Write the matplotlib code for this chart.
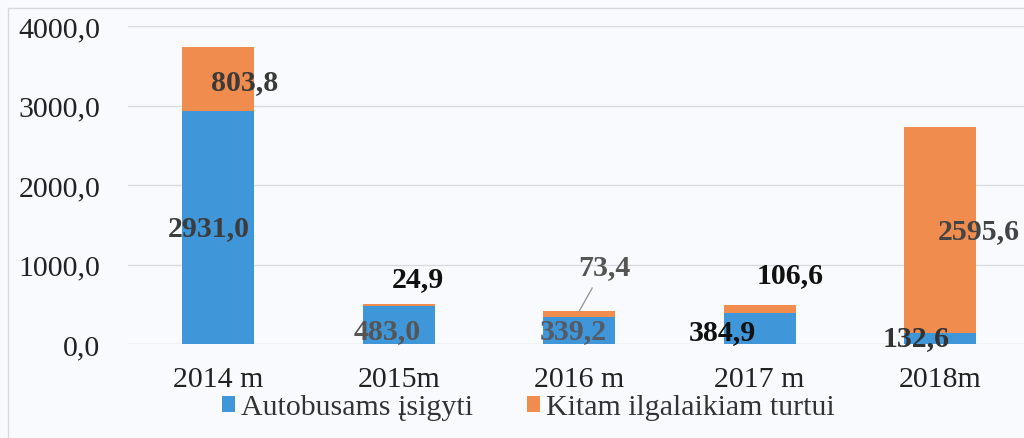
import matplotlib
matplotlib.use("Agg")
import matplotlib.pyplot as plt
from matplotlib.patches import Rectangle

# data
years = ["2014 m", "2015m", "2016 m", "2017 m", "2018m"]
autobusams = [2931.0, 483.0, 339.2, 384.9, 132.6]
kitam = [803.8, 24.9, 73.4, 106.6, 2595.6]
y_ticks = [0, 1000, 2000, 3000, 4000]

blue = "#3f96d9"
orange = "#f08c4e"
bg = "#f8fafd"
fs = 21.5

plt.rcParams["font.family"] = ["Liberation Serif", "DejaVu Serif"]

fig = plt.figure(figsize=(10.24, 4.39), dpi=100, facecolor=bg)
ax = fig.add_axes([0.125, 0.2141, 0.875, 0.7244])
ax.set_facecolor(bg)

x = list(range(len(years)))
ax.bar(x, autobusams, width=0.4, color=blue, label="Autobusams įsigyti", zorder=2)
ax.bar(x, kitam, width=0.4, bottom=autobusams, color=orange,
       label="Kitam ilgalaikiam turtui", zorder=2)

ax.set_xlim(-0.5, 4.465)
ax.set_ylim(0, 4000)
ax.set_yticks(y_ticks)
ax.set_yticklabels([f"{v:.1f}".replace(".", ",") for v in y_ticks])
ax.set_xticks(x)
ax.set_xticklabels(years)
ax.tick_params(axis="y", length=0, pad=20, labelsize=fs, labelcolor="#222222")
ax.tick_params(axis="x", length=0, pad=16, labelsize=fs, labelcolor="#222222")
ax.grid(axis="y", color="#d8dbe0", lw=1, zorder=0)
for s in ax.spines.values():
    s.set_visible(False)

# label offsets in points (dx, dy) from the centre of each segment, plus colour
blue_off = [(-7, 0), (-8, -4), (-4, 0), (-27, -2), (-17, 1)]
blue_col = ["#3c3c3c", "#555555", "#545a66", "#111111", "#333333"]
orange_off = [(19, -2), (14, 19), (18, 29), (22, 25), (28, 0)]
orange_col = ["#3a3a3a", "#111111", "#555555", "#111111", "#444444"]

for i in x:
    a, k = autobusams[i], kitam[i]
    ax.annotate(f"{a:.1f}".replace(".", ","), (i, a / 2),
                xytext=blue_off[i], textcoords="offset points",
                ha="center", va="center", fontsize=fs, fontweight="bold",
                color=blue_col[i], zorder=3, annotation_clip=False)
    arrow = None
    if i == 2:
        arrow = dict(arrowstyle="-", color="#9a9a9a", lw=1, shrinkA=4, shrinkB=0)
    ax.annotate(f"{k:.1f}".replace(".", ","), (i, a + k / 2) if arrow is None else (i, a + k),
                xytext=orange_off[i] if arrow is None else (18, 29 + 3),
                textcoords="offset points",
                ha="center", va="center", fontsize=fs, fontweight="bold",
                color=orange_col[i], zorder=3, annotation_clip=False,
                arrowprops=arrow)

leg = ax.legend(loc="center", bbox_to_anchor=(0.516, 0.07),
                bbox_transform=fig.transFigure, ncol=2, frameon=False,
                fontsize=fs, handlelength=0.45, handleheight=0.45,
                handletextpad=0.2, columnspacing=1.8)
for t in leg.get_texts():
    t.set_color("#333333")

# scanned frame edge
fig.patches.append(Rectangle((0.008, -0.1), 1.2, 1.08, transform=fig.transFigure,
                             fill=False, edgecolor="#d5d8dc", lw=1))

fig.savefig("out.png", dpi=100, facecolor=bg)
